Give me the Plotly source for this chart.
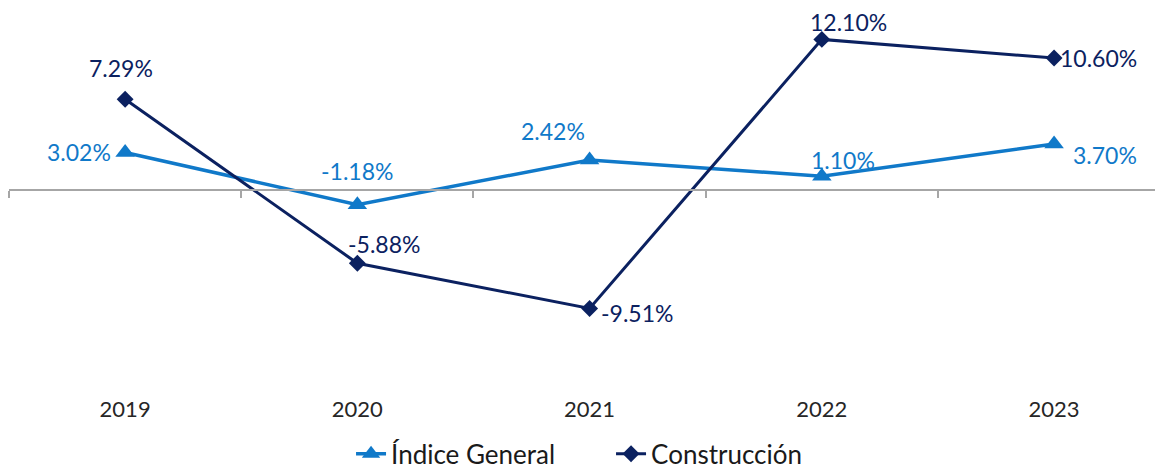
import plotly.graph_objects as go

years = ["2019", "2020", "2021", "2022", "2023"]
indice_general = [3.02, -1.18, 2.42, 1.10, 3.70]
construccion = [7.29, -5.88, -9.51, 12.10, 10.60]

C_IND = "#1079C9"
C_CON = "#0B2160"

# label offsets (pixels) relative to each point
ind_shift = [(-12, 0, "right"), (0, 34, "center"), (-37, 29, "center"), (21, 16, "center"), (51, -11, "center")]
con_shift = [(-4, 31, "center"), (27, 19, "center"), (47, -5, "center"), (27, 17, "center"), (44, 0, "center")]

FONT = "Lato"
ymin, ymax = -16.38, 14.62
xr = [-0.5, 4.469]

fig = go.Figure()
fig.add_trace(go.Scatter(
    x=years, y=indice_general, name="Índice General", mode="lines+markers",
    line=dict(color=C_IND, width=3.5),
    marker=dict(symbol="triangle-up", size=17, color=C_IND),
))
fig.add_trace(go.Scatter(
    x=years, y=construccion, name="Construcción", mode="lines+markers",
    line=dict(color=C_CON, width=3),
    marker=dict(symbol="diamond", size=13, color=C_CON),
))
# invisible trace to activate the zero-line axis
fig.add_trace(go.Scatter(x=years, y=[0]*len(years), xaxis="x2", showlegend=False,
                         hoverinfo="skip", mode="markers", marker=dict(opacity=0)))

for series, shifts, color in ((indice_general, ind_shift, C_IND), (construccion, con_shift, C_CON)):
    for i, (v, (dx, dy, xa)) in enumerate(zip(series, shifts)):
        fig.add_annotation(x=i, y=v, xref="x", yref="y", text=f"{v:.2f}%", showarrow=False,
                           xshift=dx, yshift=dy, xanchor=xa,
                           font=dict(family=FONT, size=23, color=color))

pos0 = (0 - ymin) / (ymax - ymin)
fig.update_layout(
    width=1155, height=461,
    margin=dict(l=1, r=0, t=0, b=75, autoexpand=False),
    paper_bgcolor="white", plot_bgcolor="white",
    font=dict(family=FONT, size=18, color="#333333"),
    xaxis=dict(type="category", range=xr, showgrid=False, showline=False, automargin=False,
               ticks="", tickfont=dict(family=FONT, size=22, color="#262626"), zeroline=False),
    xaxis2=dict(type="category", overlaying="x", range=xr, anchor="free", position=pos0,
                showticklabels=False, showline=True, linecolor="#A6A6A6", linewidth=1.5,
                ticks="outside", tickson="boundaries", ticklen=7, tickcolor="#A6A6A6",
                tickwidth=1.5, showgrid=False, side="bottom", automargin=False),
    yaxis=dict(range=[ymin, ymax], visible=False, showgrid=False, zeroline=False, automargin=False),
    legend=dict(orientation="h", x=0.5217, xanchor="center", y=-0.155, yanchor="middle",
                font=dict(family=FONT, size=26, color="#1a1a1a"), entrywidth=215),
    showlegend=True,
)

fig.write_html("out.html")
